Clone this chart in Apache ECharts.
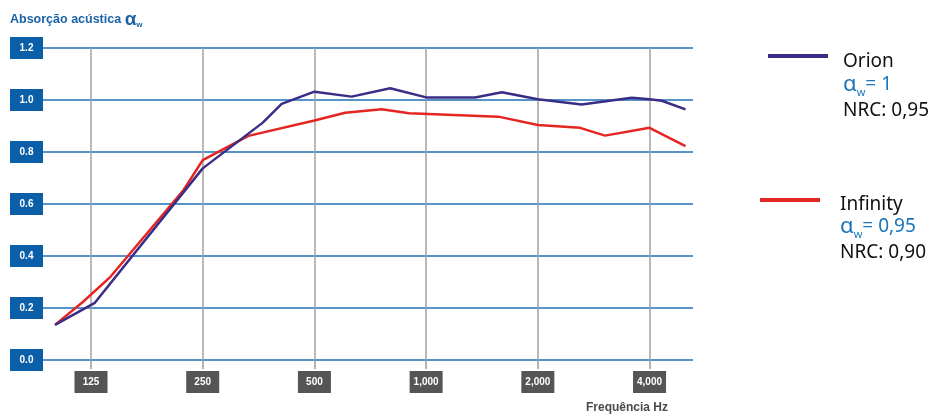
<!DOCTYPE html>
<html>
<head>
<meta charset="utf-8">
<script src="https://cdn.jsdelivr.net/npm/echarts@6/dist/echarts.min.js"></script>
<style>
html,body{margin:0;padding:0;background:#fff;}
#c{width:934px;height:416px;}
</style>
</head>
<body>
<div id="c"></div>
<script>
// Frequencies (Hz) and absorption values
const orionFreq = [100, 128, 250, 363, 408, 500, 630, 800, 1000, 1355, 1600, 2000, 2626, 3581, 4000, 4316, 5000];
const orionVal  = [0.135, 0.22, 0.737, 0.913, 0.985, 1.032, 1.013, 1.045, 1.01, 1.01, 1.03, 1.003, 0.983, 1.009, 1.003, 0.997, 0.964];
const infFreq = [100, 119, 141, 222, 250, 332, 500, 605, 759, 900, 1565, 2000, 2599, 3035, 4000, 5000];
const infVal  = [0.135, 0.224, 0.32, 0.654, 0.769, 0.862, 0.921, 0.951, 0.964, 0.949, 0.936, 0.904, 0.893, 0.863, 0.893, 0.823];
const xTickFreq = [125, 250, 500, 1000, 2000, 4000];
const xTickLabels = ['125', '250', '500', '1,000', '2,000', '4,000'];

const BASE = 125;
const oct = f => Math.log2(f / BASE);
const xMinFreq = 92.8, xMaxFreq = 5238;

const chart = echarts.init(document.getElementById('c'), null, {renderer: 'canvas'});
const blue = '#1b63a6';
const aBlue = '#1a75bb';
const option = {
  animation: false,
  backgroundColor: '#fff',
  title: [
    {
      left: 10, top: 10, padding: 0,
      text: '{t|Absorção acústica }{a|α}{w|w}',
      textStyle: {
        rich: {
          t: {fontSize: 12.5, fontWeight: 'bold', color: blue, fontFamily: 'Liberation Sans'},
          a: {fontSize: 19, color: blue, fontFamily: 'Liberation Sans'},
          w: {fontSize: 8, fontWeight: 'bold', color: blue, fontFamily: 'Liberation Sans', padding: [10, 0, 0, 0]}
        }
      }
    },
    {
      left: 586, top: 402, padding: 0,
      text: 'Frequência Hz',
      textStyle: {fontSize: 12, fontWeight: 'bold', color: '#4a4a4a', fontFamily: 'Liberation Sans'}
    }
  ],
  legend: [
    {
      data: ['Orion'], left: 768, top: 52, padding: 0, selectedMode: false,
      icon: 'rect', itemWidth: 60, itemHeight: 4,
      formatter: n => '{n|' + n + '}',
      textStyle: {rich: {n: {fontSize: 19, color: '#111', fontFamily: 'Noto Sans', padding: [11, 0, 0, 10]}}}
    },
    {
      data: ['Infinity'], left: 760, top: 195, padding: 0, selectedMode: false,
      icon: 'rect', itemWidth: 60, itemHeight: 4,
      formatter: n => '{n|' + n + '}',
      textStyle: {rich: {n: {fontSize: 19, color: '#111', fontFamily: 'Noto Sans', padding: [9, 0, 0, 15]}}}
    }
  ],
  graphic: [
    {type: 'text', x: 843, y: 85, style: {
      text: '{a|α}{s|w}{b|= 1}', verticalAlign: 'middle',
      rich: {
        a: {fontSize: 22, fill: aBlue, fontFamily: 'Noto Sans'},
        s: {fontSize: 11, fill: aBlue, fontFamily: 'Noto Sans', padding: [16, 0, 0, 0]},
        b: {fontSize: 19, fill: aBlue, fontFamily: 'Noto Sans'}
      }}},
    {type: 'text', x: 843, y: 111, style: {
      text: 'NRC: 0,95', verticalAlign: 'middle', fontSize: 19, fill: '#111', fontFamily: 'Noto Sans'}},
    {type: 'text', x: 840, y: 227, style: {
      text: '{a|α}{s|w}{b|= 0,95}', verticalAlign: 'middle',
      rich: {
        a: {fontSize: 22, fill: aBlue, fontFamily: 'Noto Sans'},
        s: {fontSize: 11, fill: aBlue, fontFamily: 'Noto Sans', padding: [16, 0, 0, 0]},
        b: {fontSize: 19, fill: aBlue, fontFamily: 'Noto Sans'}
      }}},
    {type: 'text', x: 840, y: 253, style: {
      text: 'NRC: 0,90', verticalAlign: 'middle', fontSize: 19, fill: '#111', fontFamily: 'Noto Sans'}}
  ],
  grid: {left: 43, right: 241, top: 48, bottom: 56, containLabel: false},
  xAxis: {
    type: 'value',
    min: oct(xMinFreq), max: oct(xMaxFreq),
    axisLine: {show: false},
    axisTick: {show: true, length: 9, customValues: xTickFreq.map(oct),
      lineStyle: {color: '#9a9a9a', width: 1.5}},
    splitLine: {show: true, lineStyle: {color: '#a0a0a0', width: 1.5}},
    axisLabel: {
      margin: 11,
      customValues: xTickFreq.map(oct),
      formatter: v => {
        const i = xTickFreq.findIndex(f => Math.abs(oct(f) - v) < 1e-6);
        return '{b|' + (i >= 0 ? xTickLabels[i] : '') + '}';
      },
      rich: {b: {width: 33, height: 22, lineHeight: 22, align: 'center', backgroundColor: '#555555',
        color: '#fff', fontWeight: 'bold', fontSize: 10, fontFamily: 'Liberation Sans'}}
    }
  },
  yAxis: {
    type: 'value', min: 0, max: 1.2, interval: 0.2,
    axisLine: {show: false}, axisTick: {show: false},
    splitLine: {show: true, lineStyle: {color: '#1f6fba', width: 1.5}},
    axisLabel: {
      margin: 0,
      formatter: v => '{b|' + v.toFixed(1) + '}',
      rich: {b: {width: 33, height: 22, lineHeight: 22, align: 'center', backgroundColor: '#0a5fa8',
        color: '#fff', fontWeight: 'bold', fontSize: 10, fontFamily: 'Liberation Sans'}}
    }
  },
  series: [
    {
      name: 'Infinity', type: 'line', showSymbol: false, symbol: 'none',
      data: infFreq.map((f, i) => [oct(f), infVal[i]]),
      lineStyle: {color: '#e52521', width: 2.5}, itemStyle: {color: '#e52521'}
    },
    {
      name: 'Orion', type: 'line', showSymbol: false, symbol: 'none',
      data: orionFreq.map((f, i) => [oct(f), orionVal[i]]),
      lineStyle: {color: '#3b2c85', width: 2.5}, itemStyle: {color: '#3b2c85'}
    }
  ]
};
chart.setOption(option);
</script>
</body>
</html>
